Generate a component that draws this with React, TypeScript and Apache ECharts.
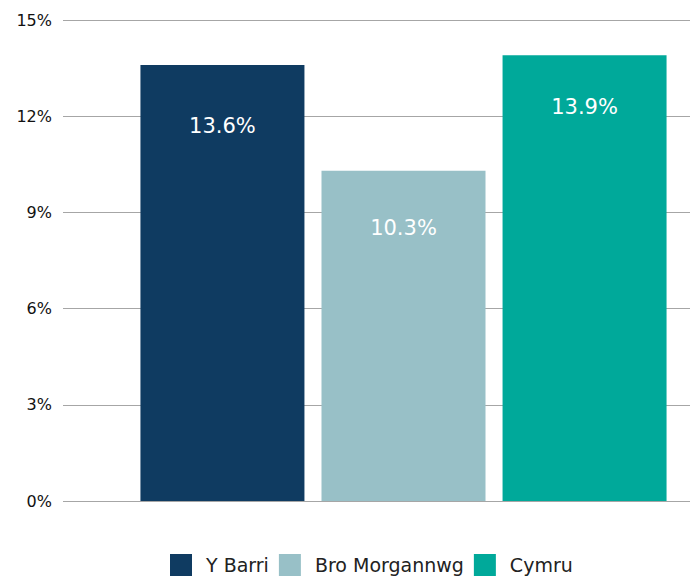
import React, { useEffect, useRef } from "react";
import * as echarts from "echarts";

const categories = [""];
const seriesNames = ["Y Barri", "Bro Morgannwg", "Cymru"];
const seriesValues = [13.6, 10.3, 13.9];
const seriesColors = ["#0f3b61", "#98c0c7", "#00a99a"];
const labelDistances = [51, 47, 41];
const yTicks = [0, 3, 6, 9, 12, 15];

export default function App() {
  const ref = useRef<HTMLDivElement>(null);
  useEffect(() => {
    const chart = echarts.init(ref.current!, null, { renderer: "svg" });
    const font = "'DejaVu Sans', 'Noto Sans', sans-serif";
    const yMin = yTicks[0];
    const yMax = yTicks[yTicks.length - 1];
    chart.setOption({
      animation: false,
      textStyle: { fontFamily: font },
      legend: {
        top: 554,
        left: 170,
        padding: 0,
        itemWidth: 22,
        itemHeight: 22,
        itemGap: 10,
        icon: "rect",
        textStyle: { fontSize: 19, color: "#222", fontFamily: font, padding: [0, 0, 0, 9] },
        data: seriesNames,
      },
      grid: [
        { left: 63, top: 20, right: 0, bottom: 84, containLabel: false },
        { left: 117, top: 20, right: 0, bottom: 84, containLabel: false },
      ],
      xAxis: [
        {
          type: "category",
          gridIndex: 0,
          data: categories,
          axisLine: { show: false },
          axisTick: { show: false },
          axisLabel: { show: false },
        },
        {
          type: "category",
          gridIndex: 1,
          data: categories,
          axisLine: { show: false },
          axisTick: { show: false },
          axisLabel: { show: false },
        },
      ],
      yAxis: [
        {
          type: "value",
          gridIndex: 0,
          min: yMin,
          max: yMax,
          interval: 3,
          axisLine: { show: false },
          axisTick: { show: false },
          axisLabel: {
            formatter: (v: number) => `${v}%`,
            fontSize: 16,
            color: "#111",
            margin: 11,
            fontFamily: font,
          },
          splitLine: { lineStyle: { color: "#a6a6a6", width: 1 } },
        },
        {
          type: "value",
          gridIndex: 1,
          min: yMin,
          max: yMax,
          interval: 3,
          axisLine: { show: false },
          axisTick: { show: false },
          axisLabel: { show: false },
          splitLine: { show: false },
        },
      ],
      series: seriesNames.map((name, i) => ({
        name,
        type: "bar",
        xAxisIndex: 1,
        yAxisIndex: 1,
        barWidth: 164,
        barGap: "10.4%",
        itemStyle: { color: seriesColors[i] },
        label: {
          show: true,
          position: "insideTop",
          distance: labelDistances[i],
          color: "#ffffff",
          fontSize: 21,
          fontFamily: font,
          formatter: (p: any) => `${p.value.toFixed(1)}%`,
        },
        data: [seriesValues[i]],
      })),
    });
    return () => chart.dispose();
  }, []);
  return <div ref={ref} style={{ width: 690, height: 585, position: "absolute", left: 0, top: 0 }} />;
}
